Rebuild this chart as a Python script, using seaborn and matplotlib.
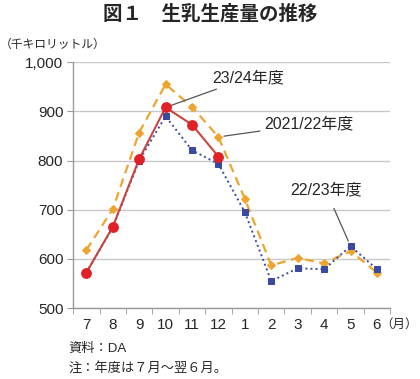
import numpy as np
import pandas as pd
import matplotlib
matplotlib.use("Agg")
import matplotlib.pyplot as plt
import seaborn as sns

months = ["7", "8", "9", "10", "11", "12", "1", "2", "3", "4", "5", "6"]
fy2122 = [618, 701, 857, 955, 909, 848, 722, 587, 602, 591, 616, 572]
fy2223 = [572, 664, 800, 890, 821, 793, 695, 555, 581, 579, 626, 579]
fy2324 = [572, 665, 803, 908, 873, 808]

sns.set_style("white")
plt.rcParams['font.family'] = ['Liberation Sans', 'Noto Sans CJK JP', 'DejaVu Sans']

fig = plt.figure(figsize=(4.2, 3.79), dpi=100)
ax = fig.add_axes([0.174, 0.187, 0.755, 0.649])

pos = np.arange(len(months))
sns.lineplot(x=pos, y=fy2122, ax=ax, color="#eea52f", linestyle=(0, (4, 2.5)), lw=1.6,
             marker="D", markersize=4.5, markeredgecolor="#eea52f", zorder=3)
sns.lineplot(x=pos, y=fy2223, ax=ax, color="#3a4aa0", linestyle=(0, (1, 1.6)), lw=1.4,
             marker="s", markersize=5, markeredgecolor="#3a4aa0", zorder=4)
sns.lineplot(x=pos[:len(fy2324)], y=fy2324, ax=ax, color="#c9463f", lw=1.5,
             marker="o", markersize=7, markerfacecolor="#e02127", markeredgecolor="#e02127", zorder=5)

ax.set_xlim(-0.5, 11.5)
ax.set_ylim(500, 1000)
ax.set_yticks([500, 600, 700, 800, 900, 1000])
ax.set_yticklabels(["500", "600", "700", "800", "900", "1,000"])
ax.yaxis.grid(True, color="#c8c8c8", lw=1)
ax.set_xticks(pos)
ax.set_xticklabels(months)
ax.set_xticks(np.arange(-0.5, 12, 1), minor=True)
ax.tick_params(axis="x", which="major", length=0, pad=7, labelsize=11)
ax.tick_params(axis="x", which="minor", length=4, color="#999999", direction="out", bottom=True)
ax.tick_params(axis="y", length=4, color="#999999", left=True, labelsize=11, pad=3)
for s in ["top", "right"]:
    ax.spines[s].set_visible(False)
for s in ["left", "bottom"]:
    ax.spines[s].set_color("#999999")
    ax.spines[s].set_linewidth(1)
ax.set_xlabel("")
ax.set_ylabel("")

# annotations
ax.annotate("23/24年度", xy=(3, 908), xytext=(4.75, 968), fontsize=11.5,
            va="center", ha="left",
            arrowprops=dict(arrowstyle="-", color="#555555", lw=0.9, shrinkA=1, shrinkB=4))
ax.annotate("2021/22年度", xy=(5, 848), xytext=(6.75, 874), fontsize=11.5,
            va="center", ha="left",
            arrowprops=dict(arrowstyle="-", color="#555555", lw=0.9, shrinkA=1, shrinkB=4))
ax.annotate("22/23年度", xy=(10, 626), xytext=(7.7, 740), fontsize=11.5,
            va="center", ha="left",
            arrowprops=dict(arrowstyle="-", color="#555555", lw=0.9, shrinkA=6, shrinkB=4,
                            relpos=(0.55, 0)))

fig.text(0.5, 0.962, "図１　生乳生産量の推移", ha="center", va="center",
         fontsize=14, fontweight="bold")
fig.text(0.0, 0.882, "（千キロリットル）", ha="left", va="center", fontsize=8.5)
fig.text(0.905, 0.142, "（月）", ha="left", va="center", fontsize=9)
fig.text(0.162, 0.079, "資料：DA", ha="left", va="center", fontsize=9.5)
fig.text(0.162, 0.028, "注：年度は７月～翌６月。", ha="left", va="center", fontsize=9.5)

fig.savefig("out.png", dpi=100)
